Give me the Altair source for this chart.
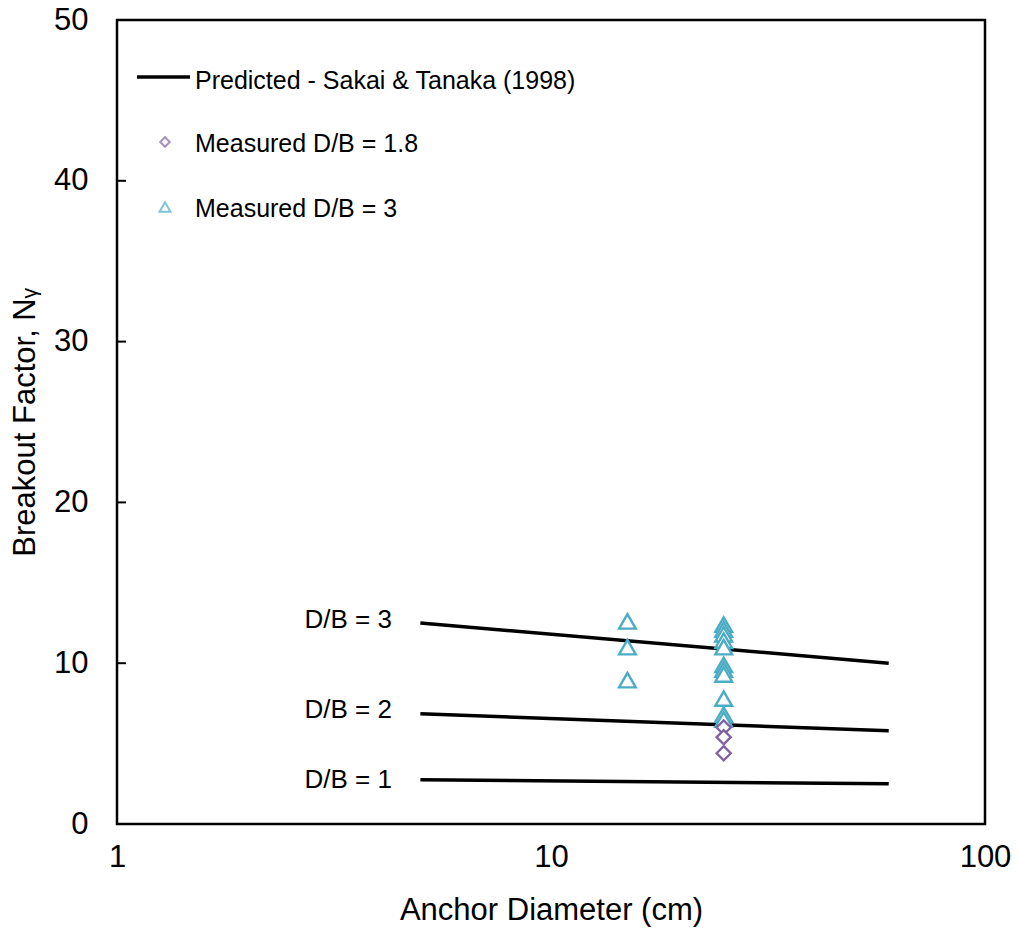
import altair as alt
import pandas as pd

# ---- data ----
pred_d = [5, 60]
pred_db3 = [12.5, 10.0]
pred_db2 = [6.85, 5.8]
pred_db1 = [2.75, 2.5]

meas3_d = [15, 15, 15, 25, 25, 25, 25, 25, 25, 25, 25, 25, 25, 25]
meas3_n = [12.6, 11.0, 8.95, 12.4, 12.1, 11.8, 11.4, 11.0, 9.9, 9.6, 9.3, 7.8, 6.8, 6.5]

meas18_d = [25, 25, 25]
meas18_n = [6.0, 5.4, 4.4]

lbl_text = ["D/B = 3", "D/B = 2", "D/B = 1"]
lbl_d = [4.3, 4.3, 4.3]
lbl_n = [12.7, 7.1, 2.75]

FONT = "Liberation Sans"
PURPLE = "#8064A2"
AQUA = "#4BACC6"

pred = pd.DataFrame({
    "d": pred_d * 3,
    "n": pred_db3 + pred_db2 + pred_db1,
    "curve": ["3"] * 2 + ["2"] * 2 + ["1"] * 2,
})
m3 = pd.DataFrame({"d": meas3_d, "n": meas3_n})
m18 = pd.DataFrame({"d": meas18_d, "n": meas18_n})
lbl = pd.DataFrame({"d": lbl_d, "n": lbl_n, "t": lbl_text})

xscale = alt.Scale(type="log", domain=[1, 100])
yscale = alt.Scale(domain=[0, 50])

xaxis = alt.Axis(values=[1, 10, 100], format="~g", title="Anchor Diameter (cm)",
                 grid=False, domain=False, ticks=False, labelFont=FONT, labelFontSize=31,
                 labelColor="black", labelPadding=18, titleFont=FONT, titleFontSize=31,
                 titleFontWeight="normal", titleColor="black", titlePadding=23,
                 labelFlush=False)
yaxis = alt.Axis(values=[0, 10, 20, 30, 40, 50], title="Breakout Factor, Nᵧ",
                 grid=False, domain=False, ticks=False, labelFont=FONT, labelFontSize=31,
                 labelColor="black", labelPadding=29, titleFont=FONT, titleFontSize=31,
                 titleFontWeight="normal", titleColor="black", titlePadding=12,
                 labelFlush=False)

X = alt.X("d:Q", scale=xscale, axis=xaxis)
Y = alt.Y("n:Q", scale=yscale, axis=yaxis)
Xn = alt.X("d:Q", scale=xscale)
Yn = alt.Y("n:Q", scale=yscale)

lines = alt.Chart(pred).mark_line(color="black", strokeWidth=3.5).encode(
    x=X, y=Y, detail="curve:N")

tri = alt.Chart(m3).mark_point(shape="triangle-up", filled=False, fill="white",
                               fillOpacity=1, stroke=AQUA, strokeWidth=2.4,
                               size=280, opacity=1).encode(x=Xn, y=Yn)
dia = alt.Chart(m18).mark_point(shape="diamond", filled=False, fill="white",
                                fillOpacity=1, stroke=PURPLE, strokeWidth=2.4,
                                size=200, opacity=1).encode(x=Xn, y=Yn)

labels = alt.Chart(lbl).mark_text(align="right", baseline="middle", font=FONT,
                                  fontSize=26, color="black").encode(
    x=Xn, y=Yn, text="t:N")

# y-axis inward ticks
ytick_vals = pd.DataFrame({"n": [10, 20, 30, 40]})
yticks = alt.Chart(ytick_vals).mark_rule(color="black", strokeWidth=2).encode(
    y=Yn, x=alt.value(0), x2=alt.value(9))

# legend (drawn inside the plot area)
leg_line = alt.Chart(pd.DataFrame({"k": [0]})).mark_rule(color="black", strokeWidth=3.5).encode(
    x=alt.value(20), x2=alt.value(73), y=alt.value(57))
leg_dia = alt.Chart(pd.DataFrame({"k": [0]})).mark_point(
    shape="diamond", filled=False, stroke=PURPLE, strokeWidth=2, size=90).encode(
    x=alt.value(48), y=alt.value(122))
leg_tri = alt.Chart(pd.DataFrame({"k": [0]})).mark_point(
    shape="triangle-up", filled=False, stroke=AQUA, strokeWidth=2, size=120).encode(
    x=alt.value(48), y=alt.value(187))
leg_txt1 = alt.Chart(pd.DataFrame({"t": ["Predicted - Sakai & Tanaka (1998)"]})).mark_text(
    align="left", baseline="middle", font=FONT, fontSize=25, color="black").encode(
    x=alt.value(78), y=alt.value(61), text="t:N")
leg_txt2 = alt.Chart(pd.DataFrame({"t": ["Measured D/B = 1.8"]})).mark_text(
    align="left", baseline="middle", font=FONT, fontSize=25, color="black").encode(
    x=alt.value(78), y=alt.value(124), text="t:N")
leg_txt3 = alt.Chart(pd.DataFrame({"t": ["Measured D/B = 3"]})).mark_text(
    align="left", baseline="middle", font=FONT, fontSize=25, color="black").encode(
    x=alt.value(78), y=alt.value(189), text="t:N")

chart = alt.layer(
    lines, tri, dia, labels, yticks,
    leg_line, leg_dia, leg_tri, leg_txt1, leg_txt2, leg_txt3,
).properties(
    width=868, height=804,
    autosize=alt.AutoSizeParams(type="none"),
    padding={"left": 117, "top": 20, "right": 33, "bottom": 111},
    background="white",
).configure_view(stroke="black", strokeWidth=2.5)

chart.save("out.html", embed_options={"renderer": "svg", "actions": False})
